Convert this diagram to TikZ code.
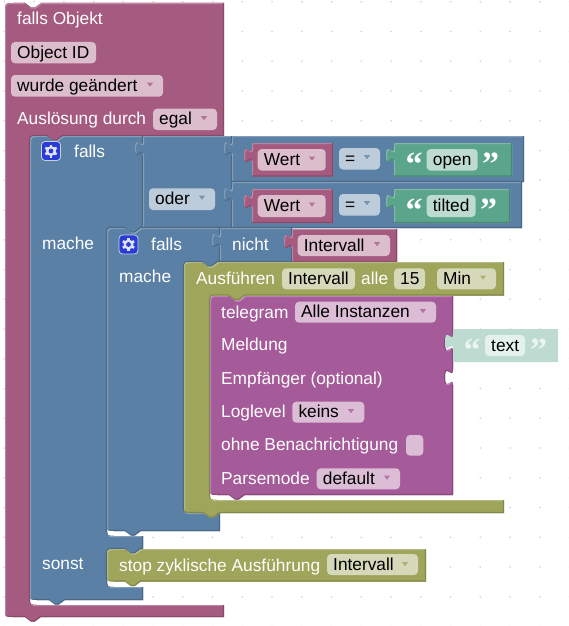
\documentclass[tikz,border=0pt]{standalone}
\usepackage{fontspec}
\setmainfont{Liberation Sans}
\newfontfamily\quotefont{Liberation Serif}
\definecolor{cpink}{HTML}{A55B80}
\definecolor{cblue}{HTML}{5B80A5}
\definecolor{cgreen}{HTML}{5BA58C}
\definecolor{colive}{HTML}{9FA55B}
\definecolor{cpurple}{HTML}{A55B99}
\definecolor{cghost}{HTML}{BEDBD1}
\definecolor{fpink}{HTML}{DBBDCC}
\definecolor{fblue}{HTML}{BDCCDB}
\definecolor{folive}{HTML}{D6D8BA}
\definecolor{fpurple}{HTML}{DBBDD6}
\definecolor{fgreen}{HTML}{BDDBD1}
\definecolor{fghost}{HTML}{E5F1ED}
\definecolor{cicon}{HTML}{2A3BD6}
\newcommand\blk[2]{%
  \fill[#1] #2;
  \begin{scope}
    \clip #2;
    \draw[#1!70!white,line width=1.1pt,xshift=.55pt,yshift=-.55pt] #2;
    \draw[#1!82!black,line width=1.1pt,xshift=-.55pt,yshift=.55pt] #2;
  \end{scope}}
% left edge tab, running upwards; x, top of row
\newcommand\tabup[2]{-- (#1,#2+25) -- (#1,#2+20) .. controls (#1,#2+10) and (#1-8,#2+28) .. (#1-8,#2+12.5) .. controls (#1-8,#2-3) and (#1,#2+15) .. (#1,#2+5) -- (#1,#2)}
% right edge socket, running downwards
\newcommand\sockdn[2]{-- (#1,#2+5) .. controls (#1,#2+15) and (#1-8,#2-3) .. (#1-8,#2+12.5) .. controls (#1-8,#2+28) and (#1,#2+10) .. (#1,#2+20)}
% notch: running leftwards along a row (centre x, y)
\newcommand\nl[2]{-- (#1+8,#2) -- (#1+2,#2+4.5) -- (#1-2,#2+4.5) -- (#1-8,#2)}
% dent: running rightwards along a top edge
\newcommand\nr[2]{-- (#1-8,#2) -- (#1-2,#2+4.5) -- (#1+2,#2+4.5) -- (#1+8,#2)}
\newcommand\fld[7]{%
  \node[fieldbox,fill=#6,minimum width={(#4-#2)*1pt},minimum height={(#5-#3)*1pt}] (#1) at ({(#2+#4)/2},{(#3+#5)/2}) {};
  \node[fieldtext] (#1t) at (#2+6,{(#3+#5)/2+5.5}) {#7};}
\newcommand\ddown[3]{\fill[#3!85!white] (#1-3.2,#2-2) -- (#1+3.2,#2-2) -- (#1,#2+2.2) -- cycle;}
\newcommand\lab[4]{\node[labeltext] (#1) at (#2,#3+6) {#4};}
\newcommand\gear[3]{%
  \node[iconbox] (#1) at (#2,#3) {};
  \foreach \a in {0,60,...,300} \draw[white!85!cicon,line width=2.6pt] (#2,#3) ++(\a+30:3.5) -- ++(\a+30:3);
  \fill[white!85!cicon] (#2,#3) circle (5);
  \fill[cicon] (#2,#3) circle (2.4);}
\newcommand\lquote[4]{\node[quotetext,text=#3] (#4) at (#1,#2) {“};}
\newcommand\rquote[4]{\node[quotetext,text=#3] (#4) at (#1,#2) {”};}
\tikzset{
  fieldbox/.style={rectangle,rounded corners=4pt,inner sep=0pt,draw=none,anchor=center},
  fieldtext/.style={anchor=base west,inner sep=0pt,text=black,font=\fontsize{17.3}{19}\selectfont},
  labeltext/.style={anchor=base west,inner sep=0pt,text=white,font=\fontsize{17.3}{19}\selectfont},
  iconbox/.style={rectangle,rounded corners=3.5pt,fill=cicon,draw=white!65!cblue,line width=.8pt,minimum size=19pt,inner sep=0pt},
  quotetext/.style={anchor=center,inner sep=0pt,font=\fontsize{34}{34}\selectfont\quotefont\bfseries}
}
\begin{document}
\begin{tikzpicture}[x=1pt,y=-1pt]
\useasboundingbox (0,0) rectangle (569,626);
\fill[white] (0,0) rectangle (569,626);
% background dots
\foreach \i in {0,...,19} \foreach \j in {0,...,21}
  \fill[black!15] (4.3+29.75*\i,1.8+29.75*\j) circle (1);
% outer pink trigger block
\blk{cpink}{(5,11) .. controls (5,3) .. (13,3) \nr{33}{3} -- (224,3) -- (224,136) \nl{55}{136} -- (38,136) .. controls (30,136) .. (30,144) -- (30,597) .. controls (30,605) .. (38,605) -- (224,605) -- (224,617) \nl{33}{617} -- (13,617) .. controls (5,617) .. (5,609) -- cycle}
% outer falls
\blk{cblue}{(30,144) .. controls (30,136) .. (38,136) \nr{55}{136} -- (143,136) -- (143,228) \nl{133}{228} -- (115,228) .. controls (107,228) .. (107,236) -- (107,528) .. controls (107,536) .. (115,536) -- (143,536) -- (143,549) \nl{133}{549} -- (115,549) .. controls (107,549) .. (107,557) -- (107,579) .. controls (107,587) .. (115,587) -- (143,587) -- (143,600) \nl{57}{600} -- (38,600) .. controls (30,600) .. (30,592) -- cycle}
% logic or
\blk{cblue}{(143,228) \tabup{143}{136} -- (232,136) -- (232,228) -- cycle}
% compare 1 and 2
\blk{cblue}{(232,182) \tabup{232}{136} -- (524,136) -- (524,182) -- cycle}
\blk{cblue}{(232,228) \tabup{232}{182} -- (522,182) -- (522,228) -- cycle}
% Wert blocks
\blk{cpink}{(252,176.5) \tabup{252}{143} -- (333,143) -- (333,176.5) -- cycle}
\blk{cpink}{(252,223) \tabup{252}{189} -- (333,189) -- (333,223) -- cycle}
% text blocks
\blk{cgreen}{(394,176.5) \tabup{394}{143} -- (512,143) -- (512,176.5) -- cycle}
\blk{cgreen}{(394,223) \tabup{394}{189} -- (510,189) -- (510,223) -- cycle}
% inner falls
\blk{cblue}{(107,236) .. controls (107,228) .. (115,228) \nr{133}{228} -- (220,228) -- (220,262) \nl{210}{262} -- (192,262) .. controls (184,262) .. (184,270) -- (184,505) .. controls (184,513) .. (192,513) -- (220,513) -- (220,531) \nl{133}{531} -- (115,531) .. controls (107,531) .. (107,523) -- cycle}
% nicht
\blk{cblue}{(220,262) \tabup{220}{228} -- (292,228) -- (292,262) -- cycle}
% Intervall
\blk{cpink}{(292,262.5) \tabup{292}{229} -- (397,229) -- (397,262.5) -- cycle}
% olive Ausfuehren
\blk{colive}{(184,270) .. controls (184,262) .. (192,262) \nr{210}{262} -- (504,262) -- (504,295.5) \nl{237}{295.5} -- (218,295.5) .. controls (210,295.5) .. (210,303.5) -- (210,492) .. controls (210,500) .. (218,500) -- (504,500) -- (504,513) \nl{212}{513} -- (192,513) .. controls (184,513) .. (184,505) -- cycle}
% purple telegram
\blk{cpurple}{(210,304) .. controls (210,296) .. (218,296) \nr{237}{296} -- (453,296) \sockdn{453}{331} \sockdn{453}{365} -- (453,495) \nl{237}{495} -- (218,495) .. controls (210,495) .. (210,487) -- cycle}
% ghost text block
\fill[cghost] (453,362) \tabup{453}{329} -- (558,329) -- (558,362) -- cycle;
% stop block
\blk{colive}{(107,557) .. controls (107,549) .. (115,549) \nr{133}{549} -- (426,549) -- (426,581.5) \nl{133}{581.5} -- (115,581.5) .. controls (107,581.5) .. (107,573.5) -- cycle}

% labels and fields, pink block
\lab{l1}{17}{19}{falls Objekt}
\fld{f1}{11}{42}{96}{63.3}{fpink}{Object ID}
\fld{f2}{11}{75}{163}{96.7}{fpink}{wurde geändert}
\ddown{150}{84.5}{cpink}
\lab{l2}{17}{118.5}{Auslösung durch}
\fld{f3}{153}{108.7}{217}{130}{fpink}{egal}
\ddown{204}{118}{cpink}
% falls
\gear{g1}{51}{151}
\lab{l3}{74}{151}{falls}
\lab{l4}{42}{243}{mache}
\lab{l5}{42}{563}{sonst}
\fld{f4}{149}{188.3}{215}{210}{fblue}{oder}
\ddown{202}{197.5}{cblue}
% compare row 1
\fld{f5}{257.7}{149}{325.7}{170.7}{fpink}{Wert}
\ddown{312}{158.5}{cpink}
\fld{f6}{339}{148}{380}{169.5}{fblue}{=}
\ddown{367}{157}{cblue}
\lquote{414}{164}{white}{q1}
\fld{f7}{426.7}{149}{477.7}{170.7}{fgreen}{open}
\rquote{490.5}{164}{white}{q2}
% compare row 2
\fld{f8}{257.7}{195}{325.7}{217}{fpink}{Wert}
\ddown{312}{204.5}{cpink}
\fld{f9}{339}{194}{380}{215.7}{fblue}{=}
\ddown{367}{203}{cblue}
\lquote{414}{210}{white}{q3}
\fld{f10}{426.7}{195}{475.7}{217}{fgreen}{tilted}
\rquote{488.5}{210}{white}{q4}
% inner falls
\gear{g2}{128.5}{244.5}
\lab{l6}{151}{244}{falls}
\lab{l7}{232}{244}{nicht}
\lab{l8}{119}{276}{mache}
\fld{f11}{297.7}{235}{390}{256}{fpink}{Intervall}
\ddown{377}{244}{cpink}
% olive header
\lab{l9}{196}{278.5}{Ausführen}
\fld{f12}{282}{268.3}{355}{289.3}{folive}{Intervall}
\lab{l10}{361}{278.5}{alle}
\fld{f13}{394}{268.3}{425}{289.3}{folive}{15}
\fld{f14}{437}{268.3}{496}{289.3}{folive}{Min}
\ddown{483}{277.5}{colive}
% telegram
\lab{l11}{221}{312}{telegram}
\fld{f15}{295}{301.7}{436}{322.7}{fpurple}{Alle Instanzen}
\ddown{423}{311}{cpurple}
\lab{l12}{221}{344.5}{Meldung}
\lab{l13}{221}{378}{Empfänger (optional)}
\lab{l14}{221}{411.5}{Loglevel}
\fld{f16}{292.3}{401.7}{364.3}{422.7}{fpurple}{keins}
\ddown{351}{411}{cpurple}
\lab{l15}{221}{444.5}{ohne Benachrichtigung}
\fld{f17}{406}{435}{423.3}{455.7}{fpurple}{}
\lab{l16}{221}{478}{Parsemode}
\fld{f18}{316.7}{468.3}{400}{489.3}{fpurple}{default}
\ddown{387}{477.5}{cpurple}
% ghost text
\lquote{472}{350}{white!70!cghost}{q5}
\fld{f19}{485}{335}{525}{356}{fghost}{text}
\rquote{538.5}{350}{white!70!cghost}{q6}
% stop
\lab{l17}{119}{565}{stop zyklische Ausführung}
\fld{f20}{327}{554}{418}{575}{folive}{Intervall}
\ddown{405}{564}{colive}
\end{tikzpicture}
\end{document}
